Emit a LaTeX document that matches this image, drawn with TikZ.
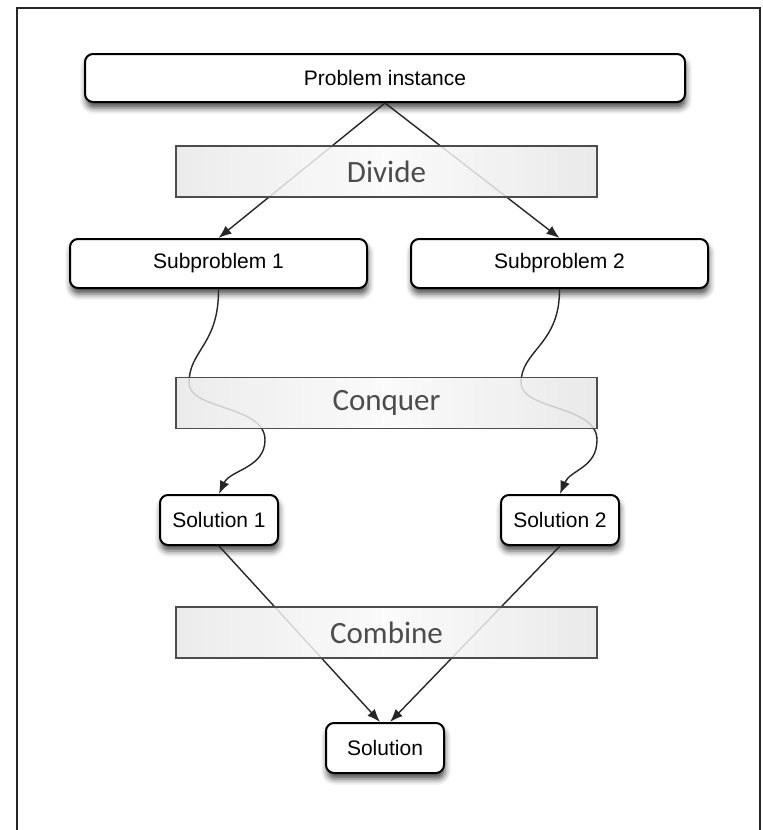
\documentclass[tikz,border=0pt]{standalone}
\usepackage{fontspec}
\newfontfamily\boxfont{Liberation Sans}
\newfontfamily\phasefont{Carlito}
\usetikzlibrary{arrows.meta}
\usetikzlibrary{shadows.blur}
\tikzstyle{step_box}=[draw=black, line width=1pt, rounded corners=4pt, fill=white, inner sep=0pt,
    font=\boxfont\fontsize{10.5}{12}\selectfont,
    blur shadow={shadow xshift=0.5pt, shadow yshift=-3pt, shadow blur radius=3pt, shadow opacity=70}]
\tikzstyle{phase_band}=[draw=black!70, line width=0.75pt, minimum width=210.5pt, minimum height=25.5pt,
    inner sep=0pt, left color=black!9, right color=black!10, middle color=black!2,
    fill opacity=0.85, draw opacity=1, text opacity=1, text=black!70,
    font=\phasefont\fontsize{15.5}{18}\selectfont]
\tikzstyle{step_arrow}=[-{Latex[length=6.5pt,width=5pt]}, line width=0.7pt, black!85]

\begin{document}
\begin{tikzpicture}[x=0.5pt, y=-0.5pt]
\useasboundingbox (0,0) rectangle (763,830);
\draw[line width=1pt, black!85] (17,830) -- (17,8) -- (760,8) -- (760,830);
\node[step_box, minimum width=300pt, minimum height=24pt] (prob) at (385,78) {Problem instance};
\node[step_box, minimum width=148.5pt, minimum height=24.5pt] (sub1) at (218.5,263.5) {Subproblem 1};
\node[step_box, minimum width=148.5pt, minimum height=24.5pt] (sub2) at (559.5,263.5) {Subproblem 2};
\node[step_box, minimum width=59pt, minimum height=25pt] (sol1) at (219,520) {Solution 1};
\node[step_box, minimum width=59pt, minimum height=25pt] (sol2) at (560,520) {Solution 2};
\node[step_box, minimum width=59pt, minimum height=25pt] (sol) at (385,748) {Solution};
\draw[step_arrow](prob.south) -- (sub1.north);
\draw[step_arrow](prob.south) -- (sub2.north);
\draw[step_arrow](sub1.south) .. controls (219,345) and (189,350) .. (189,383)
    .. controls (189,410) and (265,405) .. (265,440)
    .. controls (265,468) and (230,470) .. (sol1.north);
\draw[step_arrow](sub2.south) .. controls (560,345) and (521,350) .. (521,383)
    .. controls (521,410) and (597,405) .. (597,440)
    .. controls (597,468) and (570,470) .. (sol2.north);
\draw[step_arrow](sol1.south) -- ([xshift=-2.5pt]sol.north);
\draw[step_arrow](sol2.south) -- ([xshift=2.5pt]sol.north);
\node[phase_band] (divide) at (386.5,171.5) {Divide};
\node[phase_band] (conquer) at (386.5,403) {Conquer};
\node[phase_band] (combine) at (386.5,632.5) {Combine};
\end{tikzpicture}
\end{document}
